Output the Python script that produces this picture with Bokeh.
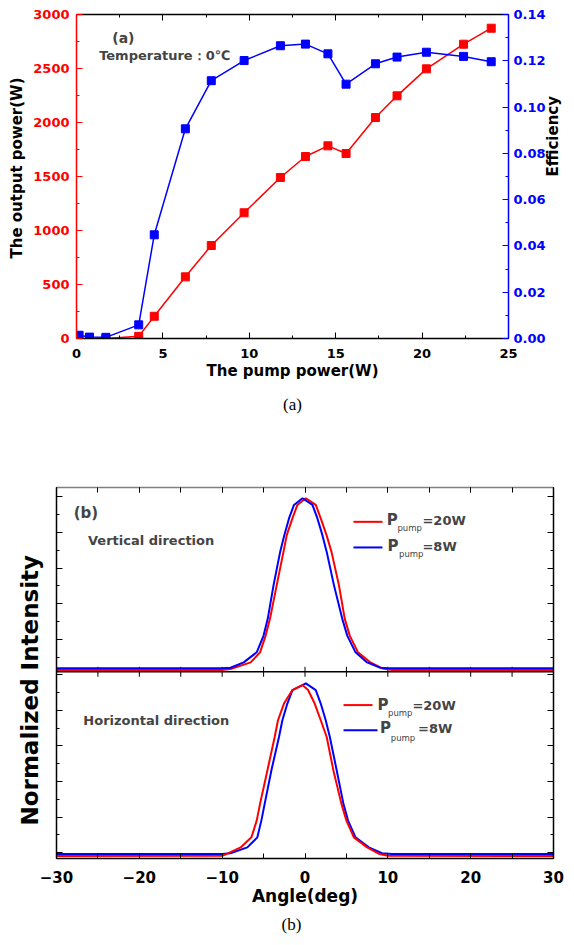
import math
from bokeh.plotting import figure
from bokeh.models import (Range1d, LinearAxis, SingleIntervalTicker, FixedTicker,
                          PrintfTickFormatter, Label, Span, Title)
from bokeh.embed import file_html
from bokeh.resources import INLINE

# ---------------- data: panel (a) ----------------
pump_power = [0.15, 0.75, 1.7, 3.6, 4.5, 6.3, 7.8, 9.7, 11.8, 13.25, 14.55,
              15.6, 17.3, 18.55, 20.25, 22.4, 24.0]
efficiency = [0.0014, 0.0006, 0.0005, 0.0059, 0.0448, 0.0906, 0.1114, 0.1201,
              0.1265, 0.1272, 0.1230, 0.1099, 0.1187, 0.1216, 0.1237, 0.1219, 0.1196]
output_pump = [1.7, 3.6, 4.5, 6.3, 7.8, 9.7, 11.8, 13.25, 14.55, 15.6, 17.3,
               18.55, 20.25, 22.4, 24.0]
output_power = [0, 20, 206, 571, 861, 1164, 1491, 1685, 1784, 1713, 2046,
                2247, 2497, 2725, 2873]

# ---------------- data: panel (b) ----------------
# vertical direction
v20_angle = [-30, -10, -9, -6.56, -5.43, -4.75, -4.23, -3.42, -2.6, -2.2, -1.52, -0.92,
             0.1, 1.3, 1.9, 2.6, 3.2, 4.1, 4.8, 5.4, 6.4, 7.9, 9.4, 10.5, 30]
v20_int = [-0.005, -0.005, 0.0, 0.039, 0.098, 0.196, 0.294, 0.49, 0.686, 0.784, 0.882, 0.961,
           1.0, 0.961, 0.882, 0.784, 0.686, 0.49, 0.294, 0.196, 0.098, 0.039, 0.003, -0.005, -0.005]
v8_angle = [-30, -10, -9, -7.4, -5.83, -5.0, -4.5, -3.8, -3.0, -2.5, -1.93, -1.33,
            -0.3, 0.9, 1.5, 2.1, 2.62, 3.5, 4.5, 5.1, 6.1, 7.5, 9.1, 10, 30]
v8_int = [0.005, 0.005, 0.008, 0.039, 0.098, 0.196, 0.294, 0.49, 0.686, 0.784, 0.882, 0.961,
          1.0, 0.961, 0.882, 0.784, 0.686, 0.49, 0.294, 0.196, 0.098, 0.039, 0.008, 0.005, 0.005]
# horizontal direction
h20_angle = [-30, -10, -9.5, -7.77, -6.47, -5.83, -5.43, -4.54, -3.66, -3.26, -2.54, -1.52,
             -0.3, 0.37, 1.17, 1.9, 2.62, 3.43, 4.4, 5.0, 5.9, 7.5, 9.0, 10, 30]
h20_int = [-0.012, -0.01, 0.0, 0.039, 0.098, 0.196, 0.294, 0.49, 0.686, 0.784, 0.882, 0.961,
           0.99, 0.961, 0.882, 0.784, 0.686, 0.49, 0.294, 0.196, 0.098, 0.039, 0.0, -0.01, -0.012]
h8_angle = [-30, -10, -9, -6.96, -5.75, -5.27, -4.87, -4.06, -3.14, -2.73, -2.13, -1.52,
            0.1, 1.3, 1.9, 2.5, 3.0, 3.83, 4.64, 5.2, 6.1, 7.7, 9.3, 10.5, 30]
h8_int = [0.0, 0.0, 0.005, 0.039, 0.098, 0.196, 0.294, 0.49, 0.686, 0.784, 0.882, 0.961,
          1.0, 0.961, 0.882, 0.784, 0.686, 0.49, 0.294, 0.196, 0.098, 0.039, 0.005, 0.0, 0.0]

RED = "#ff0000"
BLUE = "#0000ff"
FONT = "DejaVu Sans"


def style_axis(ax, color, label_color, size="13px", hidden=False):
    ax.axis_line_color = color
    ax.axis_line_width = 1.5
    ax.major_tick_line_color = color
    ax.minor_tick_line_color = color
    ax.major_tick_in = 6
    ax.major_tick_out = 0
    ax.minor_tick_in = 3
    ax.minor_tick_out = 0
    ax.major_label_text_font = FONT
    ax.major_label_text_font_style = "bold"
    ax.major_label_text_font_size = size
    ax.major_label_text_color = label_color
    ax.axis_label_text_font = FONT
    ax.axis_label_text_font_style = "bold"
    ax.axis_label_text_font_size = "15px"
    ax.axis_label_text_color = "black"
    if hidden:
        ax.major_label_text_font_size = "0px"
        ax.major_label_text_color = None
        ax.major_label_standoff = 0


def add_text(fig, x, y, text, size, rng="default", bold=True, font=FONT, align="left"):
    fig.add_layout(Label(x=x, y=y, text=text, text_font=font,
                         text_font_style="bold" if bold else "normal",
                         text_font_size=size, text_baseline="middle", text_align=align,
                         y_range_name=rng))


# ======================= panel (a) =======================
p1 = figure(width=574, height=428, x_range=Range1d(0, 25), y_range=Range1d(0, 3000),
            output_backend="svg", toolbar_location=None,
            min_border_left=74, min_border_right=66, min_border_top=14, min_border_bottom=90)
p1.extra_y_ranges = {"eff": Range1d(0, 0.14)}
p1.xgrid.visible = False
p1.ygrid.visible = False
p1.outline_line_color = None
p1.background_fill_color = "white"
p1.border_fill_color = "white"

xa = p1.xaxis[0]
xa.ticker = SingleIntervalTicker(interval=5, num_minor_ticks=2)
style_axis(xa, "black", "black")
xa.axis_label = "The pump power(W)"
xa.major_label_standoff = 10
xa.axis_label_standoff = 1

ya = p1.yaxis[0]
ya.ticker = SingleIntervalTicker(interval=500, num_minor_ticks=2)
style_axis(ya, RED, RED)
ya.major_label_standoff = 7

yr = LinearAxis(y_range_name="eff", ticker=SingleIntervalTicker(interval=0.02, num_minor_ticks=2),
                formatter=PrintfTickFormatter(format="%.2f"))
style_axis(yr, BLUE, BLUE)
yr.major_label_standoff = 5
yr.axis_label = "Efficiency"
yr.axis_label_standoff = 4
yr.axis_label_orientation = math.pi / 2   # read from bottom to top, as in the reference
p1.add_layout(yr, "right")

xt = LinearAxis(ticker=SingleIntervalTicker(interval=5, num_minor_ticks=2))
style_axis(xt, "black", "black", hidden=True)
p1.add_layout(xt, "above")

p1.line(output_pump, output_power, color=RED, line_width=1.5)
p1.scatter(output_pump, output_power, marker="square", size=8, color=RED)
p1.line(pump_power, efficiency, color=BLUE, line_width=1.5, y_range_name="eff")
p1.scatter(pump_power, efficiency, marker="square", size=8, color=BLUE, y_range_name="eff")

add_text(p1, 2.07, 2778, "(a)", "14px")
add_text(p1, 1.31, 2620, "Temperature：0℃", "13px")
p1.add_layout(Title(text="The output power(W)", align="left", offset=80, standoff=10,
                    text_font=FONT, text_font_style="bold", text_font_size="15px",
                    text_color="black"), "left")
p1.add_layout(Title(text="(a)", align="center", vertical_align="middle", standoff=22,
                    text_font="Liberation Serif", text_font_style="normal",
                    text_font_size="17px", text_color="black"), "below")

# ======================= panel (b) =======================
p2 = figure(width=574, height=516, x_range=Range1d(-30, 30), y_range=Range1d(-0.326, 20.53),
            output_backend="svg", toolbar_location=None,
            min_border_left=56, min_border_right=21, min_border_top=59, min_border_bottom=86)
p2.extra_y_ranges = {"top": Range1d(-1.109, 1.063), "bot": Range1d(-0.026, 2.148)}
p2.xgrid.visible = False
p2.ygrid.visible = False
p2.outline_line_color = None
p2.background_fill_color = "white"
p2.border_fill_color = "white"

y_major = list(range(0, 21, 2))
y_minor = list(range(1, 20, 2))

bx = p2.xaxis[0]
bx.ticker = SingleIntervalTicker(interval=10, num_minor_ticks=2)
style_axis(bx, "black", "black", size="15px")
bx.minor_tick_in = 5
bx.major_tick_in = 5
bx.axis_label = "Angle(deg)"
bx.axis_label_text_font_size = "17px"
bx.major_label_standoff = 12
bx.axis_label_standoff = 0

by = p2.yaxis[0]
by.ticker = FixedTicker(ticks=y_major, minor_ticks=y_minor)
style_axis(by, "black", "black", hidden=True)

byr = LinearAxis(ticker=FixedTicker(ticks=y_major, minor_ticks=y_minor))
style_axis(byr, "black", "black", hidden=True)
p2.add_layout(byr, "right")

bxt = LinearAxis(ticker=SingleIntervalTicker(interval=10, num_minor_ticks=2))
style_axis(bxt, "#808080", "black", hidden=True)
bxt.major_tick_line_color = "black"
bxt.minor_tick_line_color = "black"
bxt.major_tick_in = 5
bxt.minor_tick_in = 5
p2.add_layout(bxt, "above")

p2.add_layout(Title(text="Normalized Intensity", align="left", offset=33, standoff=28,
                    text_font=FONT, text_font_style="bold", text_font_size="23px",
                    text_color="black"), "left")
p2.add_layout(Title(text="(b)", align="left", offset=225, vertical_align="middle", standoff=11,
                    text_font="Liberation Serif", text_font_style="normal",
                    text_font_size="17px", text_color="black"), "below")

# divider between the two panels
divider = 10.17
p2.add_layout(Span(location=divider, dimension="width", line_color="black", line_width=1.5))
div_ticks = list(range(-25, 30, 5))
p2.segment(x0=div_ticks, y0=[divider - 0.28] * len(div_ticks), x1=div_ticks,
           y1=[divider + 0.28] * len(div_ticks), line_color="black", line_width=1)

p2.line(v20_angle, v20_int, color=RED, line_width=2, y_range_name="top")
p2.line(v8_angle, v8_int, color=BLUE, line_width=2, y_range_name="top")
p2.line(h8_angle, h8_int, color=BLUE, line_width=2, y_range_name="bot")
p2.line(h20_angle, h20_int, color=RED, line_width=2, y_range_name="bot")

# panel labels
add_text(p2, -27.93, 0.913, "(b)", "15px", "top")
add_text(p2, -26.2, 0.75, "Vertical direction", "13px", "top")
add_text(p2, -26.76, 0.785, "Horizontal direction", "13px", "bot")

# legends (swatches + subscripted labels)
p2.segment(x0=[5.85, 5.85], y0=[0.862, 0.712], x1=[9.35, 9.35], y1=[0.862, 0.712],
           line_color=[RED, BLUE], line_width=2, y_range_name="top")
add_text(p2, 9.87, 0.872, "P", "15px", "top")
add_text(p2, 11.16, 0.828, "pump", "8.5px", "top", bold=False)
add_text(p2, 14.18, 0.872, "=20W", "13px", "top")
add_text(p2, 9.95, 0.72, "P", "15px", "top")
add_text(p2, 11.35, 0.673, "pump", "8.5px", "top", bold=False)
add_text(p2, 14.18, 0.72, "=8W", "13px", "top")

p2.segment(x0=[4.65, 4.65], y0=[0.873, 0.726], x1=[8.15, 8.75], y1=[0.873, 0.726],
           line_color=[RED, BLUE], line_width=2, y_range_name="bot")
add_text(p2, 8.74, 0.873, "P", "15px", "bot")
add_text(p2, 10.02, 0.824, "pump", "8.5px", "bot", bold=False)
add_text(p2, 12.97, 0.873, "=20W", "13px", "bot")
add_text(p2, 9.06, 0.736, "P", "15px", "bot")
add_text(p2, 10.35, 0.683, "pump", "8.5px", "bot", bold=False)
add_text(p2, 13.65, 0.736, "=8W", "13px", "bot")

open("out.html", "w").write(file_html([p1, p2], INLINE))
